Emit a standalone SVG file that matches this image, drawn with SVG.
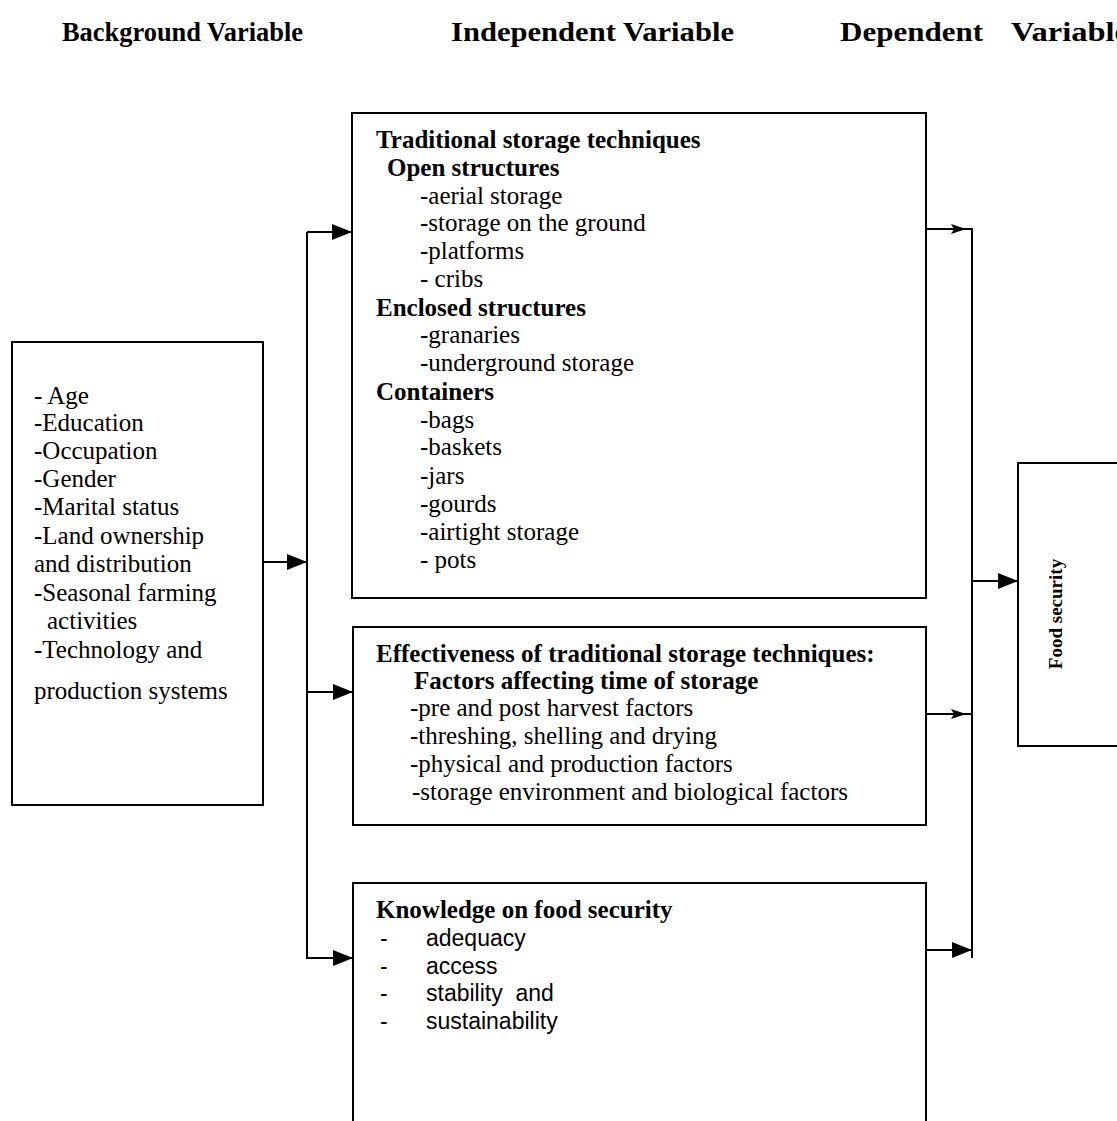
<svg xmlns="http://www.w3.org/2000/svg" width="1117" height="1121" viewBox="0 0 1117 1121">
<defs>
<style>
.box{fill:#fff;stroke:#000;stroke-width:2}
.ln{fill:none;stroke:#000;stroke-width:2}
.hd{font-family:"Liberation Serif",serif;font-weight:bold;font-size:28px;fill:#000}
.t{font-family:"Liberation Serif",serif;font-size:25px;fill:#000}
.b{font-family:"Liberation Serif",serif;font-weight:bold;font-size:25px;fill:#000}
.s{font-family:"Liberation Sans",sans-serif;font-size:23px;fill:#000;white-space:pre}
</style>
<marker id="ah" viewBox="0 0 10 10" refX="10" refY="5" markerWidth="15" markerHeight="10" markerUnits="userSpaceOnUse" orient="auto" preserveAspectRatio="none">
<path d="M0,0 L10,5 L0,10 L2,5 z" fill="#000"/>
</marker>
<marker id="big" viewBox="0 0 10 10" refX="10" refY="5" markerWidth="20" markerHeight="16" markerUnits="userSpaceOnUse" orient="auto" preserveAspectRatio="none">
<path d="M0,0 L10,5 L0,10 z" fill="#000"/>
</marker>
</defs>
<rect width="1117" height="1121" fill="#fff"/>
<g id="headers">
<text class="hd" x="62" y="41" textLength="241" lengthAdjust="spacingAndGlyphs">Background Variable</text>
<text class="hd" x="451" y="41" textLength="283" lengthAdjust="spacingAndGlyphs">Independent Variable</text>
<text class="hd" x="840" y="41" textLength="143" lengthAdjust="spacingAndGlyphs">Dependent</text>
<text class="hd" x="1011" y="41" textLength="118" lengthAdjust="spacingAndGlyphs">Variable</text>
</g>
<g id="connectors">
<line class="ln" x1="307" y1="232" x2="307" y2="959"/>
<line class="ln" x1="263" y1="562" x2="307" y2="562" marker-end="url(#big)"/>
<line class="ln" x1="307" y1="232" x2="352" y2="232" marker-end="url(#big)"/>
<line class="ln" x1="307" y1="692" x2="353" y2="692" marker-end="url(#big)"/>
<line class="ln" x1="307" y1="958" x2="353" y2="958" marker-end="url(#big)"/>
<line class="ln" x1="972" y1="228" x2="972" y2="958"/>
<line class="ln" x1="926" y1="229" x2="972" y2="229"/>
<line class="ln" x1="926" y1="229" x2="966" y2="229" marker-end="url(#ah)"/>
<line class="ln" x1="926" y1="714" x2="972" y2="714"/>
<line class="ln" x1="926" y1="714" x2="966" y2="714" marker-end="url(#ah)"/>
<line class="ln" x1="926" y1="950" x2="972" y2="950" marker-end="url(#big)"/>
<line class="ln" x1="972" y1="581" x2="1018" y2="581" marker-end="url(#big)"/>
</g>
<g id="background">
<rect class="box" x="12" y="342" width="251" height="463"/>
<text class="t" x="34" y="404">- Age</text>
<text class="t" x="34" y="431">-Education</text>
<text class="t" x="34" y="459">-Occupation</text>
<text class="t" x="34" y="487">-Gender</text>
<text class="t" x="34" y="515">-Marital status</text>
<text class="t" x="34" y="544">-Land ownership</text>
<text class="t" x="34" y="572">and distribution</text>
<text class="t" x="34" y="601">-Seasonal farming</text>
<text class="t" x="47" y="629">activities</text>
<text class="t" x="34" y="658">-Technology and</text>
<text class="t" x="34" y="699">production systems</text>
</g>
<g id="traditional">
<rect class="box" x="352" y="113" width="574" height="485"/>
<text class="b" x="376" y="148">Traditional storage techniques</text>
<text class="b" x="387" y="176">Open structures</text>
<text class="t" x="420" y="204">-aerial storage</text>
<text class="t" x="420" y="231">-storage on the ground</text>
<text class="t" x="420" y="259">-platforms</text>
<text class="t" x="420" y="287">- cribs</text>
<text class="b" x="376" y="316">Enclosed structures</text>
<text class="t" x="420" y="343">-granaries</text>
<text class="t" x="420" y="371">-underground storage</text>
<text class="b" x="376" y="400">Containers</text>
<text class="t" x="420" y="428">-bags</text>
<text class="t" x="420" y="455">-baskets</text>
<text class="t" x="420" y="484">-jars</text>
<text class="t" x="420" y="512">-gourds</text>
<text class="t" x="420" y="540">-airtight storage</text>
<text class="t" x="420" y="568">- pots</text>
</g>
<g id="effectiveness">
<rect class="box" x="353" y="627" width="573" height="198"/>
<text class="b" x="376" y="662">Effectiveness of traditional storage techniques:</text>
<text class="b" x="414" y="689">Factors affecting time of storage</text>
<text class="t" x="410" y="716">-pre and post harvest factors</text>
<text class="t" x="410" y="744">-threshing, shelling and drying</text>
<text class="t" x="410" y="772">-physical and production factors</text>
<text class="t" x="412" y="800">-storage environment and biological factors</text>
</g>
<g id="knowledge">
<path class="ln" d="M353,1125 L353,883 L926,883 L926,1125"/>
<text class="b" x="376" y="918">Knowledge on food security</text>
<text class="s" x="380" y="946">-</text>
<text class="s" x="426" y="946">adequacy</text>
<text class="s" x="380" y="974">-</text>
<text class="s" x="426" y="974">access</text>
<text class="s" x="380" y="1001">-</text>
<text class="s" x="426" y="1001" xml:space="preserve">stability  and</text>
<text class="s" x="380" y="1029">-</text>
<text class="s" x="426" y="1029">sustainability</text>
</g>
<g id="food-security">
<rect class="box" x="1018" y="463" width="110" height="283"/>
<text class="b" transform="translate(1062,614) rotate(-90)" text-anchor="middle" style="font-size:19px">Food security</text>
</g>
</svg>
